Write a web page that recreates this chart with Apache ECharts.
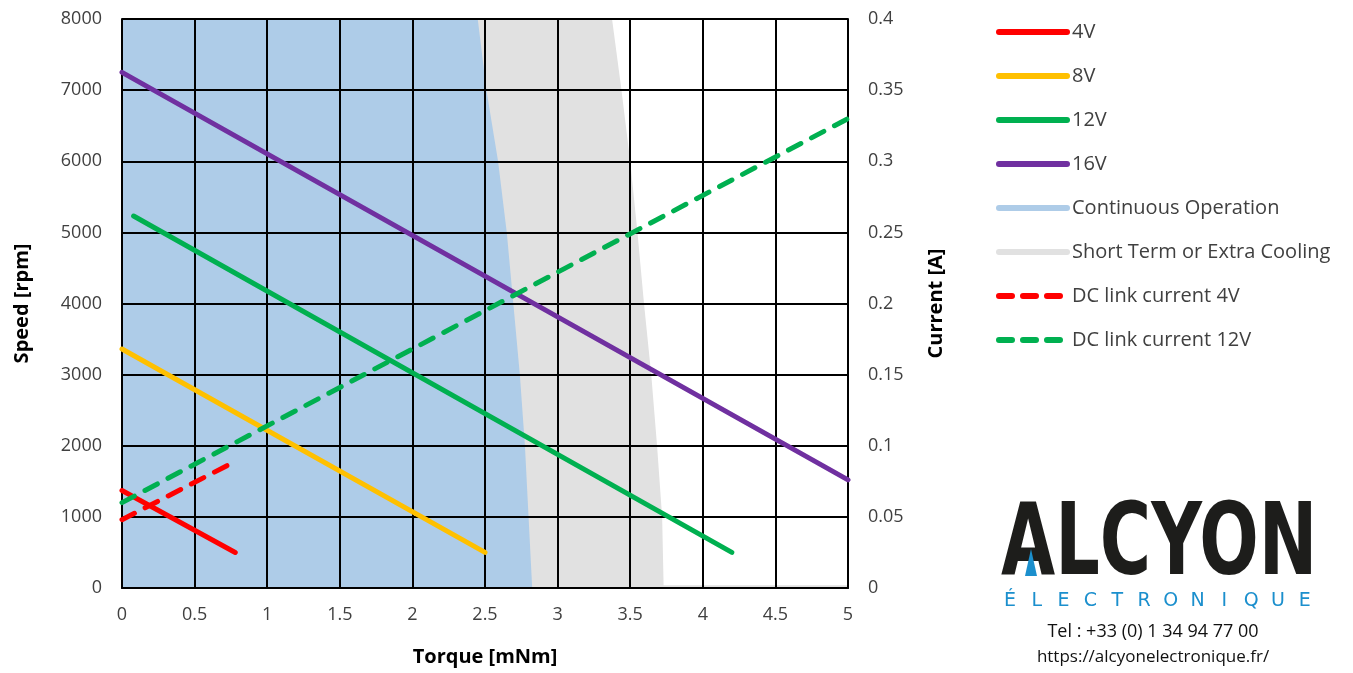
<!DOCTYPE html>
<html>
<head>
<meta charset="utf-8">
<script src="https://cdn.jsdelivr.net/npm/echarts@6/dist/echarts.min.js"></script>
<style>html,body{margin:0;padding:0;background:#fff}#c{width:1353px;height:673px}</style>
</head>
<body>
<div id="c"></div>
<script>
// ---- data (torque [mNm], speed [rpm] / current [A]) ----
var xTicks = [0, 0.5, 1, 1.5, 2, 2.5, 3, 3.5, 4, 4.5, 5];
var speed4V = [[0, 1370], [0.78, 500]];
var speed8V = [[0, 3360], [2.5, 500]];
var speed12V = [[0.08, 5230], [4.2, 500]];
var speed16V = [[0, 7250], [5, 1520]];
var continuousOp = [[0, 8000], [2.45, 8000], [2.51, 7000], [2.59, 6000], [2.65, 5000], [2.695, 4000], [2.74, 3000], [2.775, 2000], [2.8, 1000], [2.825, 0]];
var shortTerm = [[0, 8000], [3.375, 8000], [3.44, 7000], [3.5, 6000], [3.55, 5000], [3.595, 4000], [3.645, 3000], [3.685, 2000], [3.72, 1000], [3.73, 40], [5, 40]];
var current4V = [[0, 0.048], [0.78, 0.089]];
var current12V = [[0, 0.06], [5, 0.33]];
var legendNames = ['4V', '8V', '12V', '16V', 'Continuous Operation', 'Short Term or Extra Cooling', 'DC link current 4V', 'DC link current 12V'];
var legendColors = ['#ff0000', '#ffc000', '#00b050', '#7030a0', '#aecce8', '#e1e1e1', '#ff0000', '#00b050'];
var legendDashed = [false, false, false, false, false, false, true, true];

var FONT = 'Open Sans';
var chart = echarts.init(document.getElementById('c'));

function lineSeries(name, data, color, dashed, yIdx) {
  return {
    name: name, type: 'line', data: data, yAxisIndex: yIdx || 0,
    symbol: 'none', z: 3, silent: true, animation: false,
    lineStyle: { color: color, width: 5, cap: 'round', type: dashed ? [14, 12] : 'solid' },
    itemStyle: { color: color }
  };
}
function areaSeries(name, data, color, z) {
  return {
    name: name, type: 'line', data: data, symbol: 'none', z: z, silent: true, animation: false,
    lineStyle: { width: 0, color: color }, itemStyle: { color: color },
    areaStyle: { color: color, opacity: 1 }
  };
}

// letter-spaced sub logo
var subWord = 'ÉLECTRONIQUE'.split('');
var logoGraphics = [
  { type: 'text', left: 1001, top: 498, scaleX: 0.7, style: { text: 'ALCYON', font: '900 100px "DejaVu Sans"', fill: '#1d1d1b' } },
  { type: 'polygon', shape: { points: [[1025, 576], [1037, 576], [1031, 549]] }, style: { fill: '#1b8fcd' } },
  { type: 'text', x: 1153, y: 632, style: { text: 'Tel : +33 (0) 1 34 94 77 00', font: '18px "Open Sans"', fill: '#111', align: 'center', verticalAlign: 'middle' } },
  { type: 'text', x: 1153, y: 657, style: { text: 'https://alcyonelectronique.fr/', font: '17px "Open Sans"', fill: '#111', align: 'center', verticalAlign: 'middle' } }
];
subWord.forEach(function (ch, i) {
  logoGraphics.push({ type: 'text', x: 1010 + i * 26.8, y: 601, style: { text: ch, font: '19px "DejaVu Sans"', fill: '#1b8fcd', align: 'center', verticalAlign: 'middle' } });
});

var legendData = legendNames.map(function (n, i) {
  return {
    name: n,
    itemStyle: { opacity: 0 },
    lineStyle: { width: 6, color: legendColors[i], cap: 'round', type: legendDashed[i] ? [13, 11] : 'solid', opacity: 1 }
  };
});

chart.setOption({
  animation: false,
  backgroundColor: '#fff',
  textStyle: { fontFamily: FONT },
  grid: { left: 122, top: 19, width: 726, height: 569, containLabel: false },
  legend: {
    orient: 'vertical', left: 991, top: 17, itemWidth: 68, itemHeight: 14, itemGap: 24,
    data: legendData, selectedMode: false,
    textStyle: { fontSize: 20, color: '#404040', fontFamily: FONT }
  },
  xAxis: {
    type: 'value', min: 0, max: 5, interval: 0.5, z: 1,
    name: 'Torque [mNm]', nameLocation: 'middle', nameGap: 59,
    nameTextStyle: { fontSize: 20, fontWeight: 'bold', color: '#000', fontFamily: FONT },
    axisLine: { show: true, lineStyle: { color: '#000', width: 2 } },
    axisTick: { show: false },
    axisLabel: { fontSize: 18, color: '#404040', margin: 18, fontFamily: FONT },
    splitLine: { show: true, lineStyle: { color: '#000', width: 2 } }
  },
  yAxis: [{
    type: 'value', min: 0, max: 8000, interval: 1000, z: 1,
    name: 'Speed [rpm]', nameLocation: 'middle', nameGap: 90, nameRotate: 90,
    nameTextStyle: { fontSize: 20, fontWeight: 'bold', color: '#000', fontFamily: FONT },
    axisLine: { show: true, lineStyle: { color: '#000', width: 2 } },
    axisTick: { show: false },
    axisLabel: { fontSize: 18, color: '#404040', margin: 20, fontFamily: FONT, formatter: function (v) { return String(v); } },
    splitLine: { show: true, lineStyle: { color: '#000', width: 2 } }
  }, {
    type: 'value', min: 0, max: 0.4, interval: 0.05, position: 'right', z: 1,
    name: 'Current [A]', nameLocation: 'middle', nameGap: 78, nameRotate: 90,
    nameTextStyle: { fontSize: 20, fontWeight: 'bold', color: '#000', fontFamily: FONT },
    axisLine: { show: true, lineStyle: { color: '#000', width: 2 } },
    axisTick: { show: false },
    axisLabel: { fontSize: 18, color: '#404040', margin: 20, fontFamily: FONT, formatter: function (v) { return String(parseFloat(v.toFixed(2))); } },
    splitLine: { show: false }
  }],
  series: [
    areaSeries('Short Term or Extra Cooling', shortTerm, '#e1e1e1', -2),
    areaSeries('Continuous Operation', continuousOp, '#aecce8', -1),
    lineSeries('4V', speed4V, '#ff0000', false),
    lineSeries('8V', speed8V, '#ffc000', false),
    lineSeries('12V', speed12V, '#00b050', false),
    lineSeries('16V', speed16V, '#7030a0', false),
    lineSeries('DC link current 4V', current4V, '#ff0000', true, 1),
    lineSeries('DC link current 12V', current12V, '#00b050', true, 1)
  ],
  graphic: logoGraphics
});
</script>
</body>
</html>
